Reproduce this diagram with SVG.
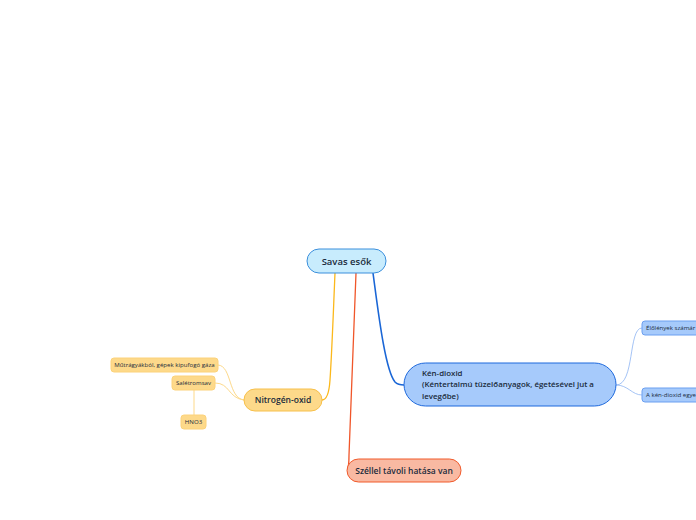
<svg xmlns="http://www.w3.org/2000/svg" width="696" height="520" viewBox="0 0 696 520">
<style>
text{font-family:"Open Sans","Noto Sans","Liberation Sans",sans-serif;fill:#1a2b3c}
.root rect{fill:#c8ecfd;stroke:#3b8fdc;stroke-width:1}
.y rect{fill:#fdd98a;stroke:#f7c04a;stroke-width:1}
.ys rect{fill:#fdd98a;stroke:#fcd27a;stroke-width:1}
.b rect{fill:#a6cafb;stroke:#1d68dc;stroke-width:1}
.bs rect{fill:#a6cafb;stroke:#6b9ff0;stroke-width:1}
.r rect{fill:#f9b9a2;stroke:#f15a2b;stroke-width:1}
.m{font-size:8.5px;font-weight:600}
.s{font-size:6.1px}
#connectors path{fill:none}
</style>
<rect width="696" height="520" fill="#ffffff"/>
<g id="connectors">
<path d="M335,273 C333,320 332,350 330,380 C329,395 326,400 322,400" stroke="#fbb81b" stroke-width="1.3"/>
<path d="M356,273 L349,455 C349,465 348,470 347,470" stroke="#f0562a" stroke-width="1.3"/>
<path d="M373,273 C378,310 385,370 395,382 C398,385 401,385 404,385" stroke="#1a66d6" stroke-width="1.6"/>
<path d="M244,400 C228,398 232,366 218,365" stroke="#fdd98a" stroke-width="1"/>
<path d="M244,400 C228,398 230,383 215,383" stroke="#fdd98a" stroke-width="1"/>
<path d="M194,390 L194,415" stroke="#fdd98a" stroke-width="1"/>
<path d="M616,385 C635,385 628,328 642,328" stroke="#8db4f2" stroke-width="0.8"/>
<path d="M616,385 C628,385 632,395 642,395" stroke="#8db4f2" stroke-width="0.8"/>
</g>
<g id="root" class="root"><rect x="307" y="249" width="79" height="24" rx="12"/><text x="346.5" y="264.5" text-anchor="middle" font-size="9.5" font-weight="600">Savas esők</text></g>
<g id="nitrogen" class="y"><rect x="244" y="389" width="78" height="22" rx="11"/><text x="283" y="403" text-anchor="middle" class="m">Nitrogén-oxid</text></g>
<g id="mutragya" class="ys"><rect x="111" y="358" width="107" height="14" rx="3"/><text x="164.5" y="367.2" text-anchor="middle" class="s">Műtrágyákból, gépek kipufogó gáza</text></g>
<g id="salétromsav" class="ys"><rect x="172" y="376" width="43" height="14" rx="3"/><text x="193.5" y="385.2" text-anchor="middle" class="s">Salétromsav</text></g>
<g id="hno3" class="ys"><rect x="181" y="415" width="25" height="14" rx="3"/><text x="193.5" y="424.2" text-anchor="middle" class="s">HNO3</text></g>
<g id="kendioxid" class="b"><rect x="404" y="363" width="212" height="43" rx="21.5"/><text x="422" y="375.5" class="m" style="font-size:7.9px">Kén-dioxid<tspan x="422" dy="11.5">(Kéntertalmú tüzelőanyagok, égetésével jut a</tspan><tspan x="422" dy="11.5">levegőbe)</tspan></text></g>
<g id="elolenyek" class="bs"><rect x="642" y="321" width="60" height="14" rx="3"/><text x="646" y="330.2" class="s">Élőlények számár</text></g>
<g id="akendioxid" class="bs"><rect x="642" y="388" width="60" height="14" rx="3"/><text x="646" y="397.2" class="s">A kén-dioxid egye</text></g>
<g id="szellel" class="r"><rect x="347" y="459" width="114" height="23" rx="11.5"/><text x="404" y="473.5" text-anchor="middle" class="m">Széllel távoli hatása van</text></g>
</svg>
